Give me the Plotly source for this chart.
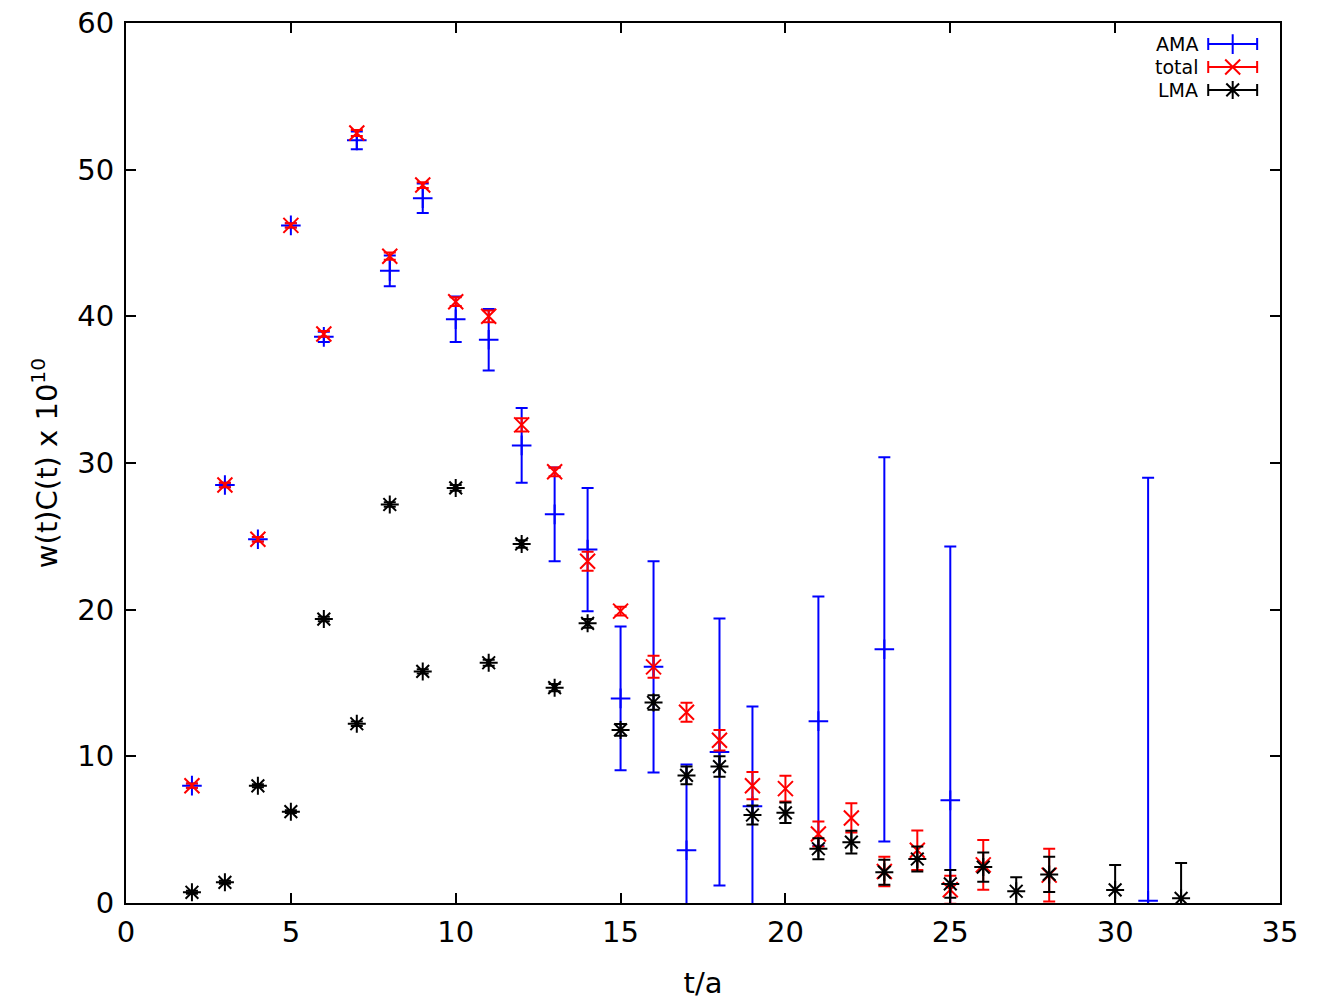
import plotly.graph_objects as go

# ---------------- data ----------------
ama_t   = [2, 3, 4, 5, 6, 7, 8, 9, 10, 11, 12, 13, 14, 15, 16, 17, 18, 19, 21, 23, 25, 31]
ama_v   = [8.0, 28.5, 24.8, 46.2, 38.6, 52.0, 43.1, 48.05, 39.8, 38.4, 31.2, 26.5, 24.1, 13.95, 16.1, 3.6, 10.3, 6.6, 12.4, 17.3, 7.0, 0.15]
ama_e   = [0.15, 0.15, 0.15, 0.15, 0.35, 0.6, 1.05, 1.0, 1.55, 2.1, 2.55, 3.2, 4.2, 4.9, 7.2, 5.85, 9.1, 6.8, 8.5, 13.1, 17.3, 28.85]

tot_t   = [2, 3, 4, 5, 6, 7, 8, 9, 10, 11, 12, 13, 14, 15, 16, 17, 18, 19, 20, 21, 22, 23, 24, 25, 26, 28]
tot_v   = [8.0, 28.5, 24.8, 46.2, 38.8, 52.5, 44.1, 48.95, 41.0, 40.0, 32.6, 29.4, 23.3, 19.9, 16.1, 13.0, 11.1, 8.0, 7.8, 4.7, 5.8, 2.15, 3.6, 0.9, 2.6, 1.9]
tot_e   = [0.15, 0.15, 0.15, 0.15, 0.2, 0.2, 0.25, 0.2, 0.3, 0.4, 0.45, 0.3, 0.65, 0.3, 0.75, 0.65, 0.7, 0.93, 0.88, 0.85, 1.0, 1.0, 1.35, 0.95, 1.7, 1.8]

lma_t   = [2, 3, 4, 5, 6, 7, 8, 9, 10, 11, 12, 13, 14, 15, 16, 17, 18, 19, 20, 21, 22, 23, 24, 25, 26, 27, 28, 30, 32]
lma_v   = [0.73, 1.41, 7.99, 6.23, 19.36, 12.22, 27.17, 15.79, 28.3, 16.38, 24.48, 14.68, 19.07, 11.8, 13.67, 8.7, 9.3, 6.0, 6.15, 3.7, 4.15, 2.1, 3.0, 1.3, 2.45, 0.8, 1.95, 0.89, 0.32]
lma_e   = [0.1, 0.1, 0.1, 0.1, 0.15, 0.15, 0.15, 0.15, 0.2, 0.2, 0.25, 0.25, 0.3, 0.4, 0.5, 0.6, 0.7, 0.65, 0.7, 0.72, 0.78, 0.85, 0.85, 0.95, 1.0, 0.95, 1.2, 1.7, 2.4]

series_names = ["AMA", "total", "LMA"]
x_ticks = [0, 5, 10, 15, 20, 25, 30, 35]
y_ticks = [0, 10, 20, 30, 40, 50, 60]

# ---------------- styles ----------------
FONT = "DejaVu Sans"
colors = {"AMA": "#0000ff", "total": "#ff0000", "LMA": "#000000"}
symbols = {"AMA": "cross-thin-open", "total": "x-thin-open", "LMA": "asterisk-open"}
sizes = {"AMA": 14, "total": 15, "LMA": 15}

fig = go.Figure()

def add_series(name, t, v, e):
    c = colors[name]
    fig.add_trace(go.Scatter(
        x=t, y=v, mode="markers", name=name, showlegend=False,
        marker=dict(symbol=symbols[name], size=sizes[name], color=c,
                    line=dict(color=c, width=2)),
        error_y=dict(type="data", array=e, visible=True, color=c,
                     thickness=2, width=6),
    ))

add_series("AMA", ama_t, ama_v, ama_e)
add_series("total", tot_t, tot_v, tot_e)
add_series("LMA", lma_t, lma_v, lma_e)

# ---------------- gnuplot-style key (top right, text left of sample) ----------------
key_rows = [0.976, 0.950, 0.924]
key_cx = 0.959
key_half = 0.0212
key_text_x = 0.931
for name, ry in zip(series_names, key_rows):
    c = colors[name]
    fig.add_trace(go.Scatter(
        x=[key_cx], y=[ry], xaxis="x2", yaxis="y2", mode="markers",
        showlegend=False, hoverinfo="skip",
        marker=dict(symbol=symbols[name], size=sizes[name], color=c,
                    line=dict(color=c, width=2)),
        error_x=dict(type="constant", value=key_half, visible=True,
                     color=c, thickness=2, width=6),
    ))
    fig.add_annotation(x=key_text_x, y=ry, xref="paper", yref="paper",
                       text=name, showarrow=False, xanchor="right",
                       yanchor="middle", font=dict(family=FONT, size=19, color="black"))

axis_common = dict(
    showline=True, linecolor="black", linewidth=2, mirror="ticks",
    ticks="inside", ticklen=10, tickwidth=1.5, tickcolor="black",
    showgrid=False, zeroline=False, automargin=False,
    tickfont=dict(family=FONT, size=29, color="black"),
)

fig.update_layout(
    width=1334, height=1000,
    margin=dict(l=126, r=54, t=23, b=97),
    plot_bgcolor="white", paper_bgcolor="white",
    xaxis=dict(range=[0, 35], tickvals=x_ticks, ticktext=[str(v) for v in x_ticks],
               ticklabelstandoff=2,
               title=dict(text="t/a", font=dict(family=FONT, size=29, color="black"), standoff=30),
               **axis_common),
    yaxis=dict(range=[0, 60], tickvals=y_ticks, ticktext=[str(v) for v in y_ticks],
               ticklabelstandoff=4,
               title=dict(text="w(t)C(t) x 10<sup>10</sup>", font=dict(family=FONT, size=29, color="black"), standoff=11),
               **axis_common),
    xaxis2=dict(range=[0, 1], overlaying="x", visible=False, fixedrange=True),
    yaxis2=dict(range=[0, 1], overlaying="y", visible=False, fixedrange=True),
    showlegend=False,
)

fig.write_html("out.html")
